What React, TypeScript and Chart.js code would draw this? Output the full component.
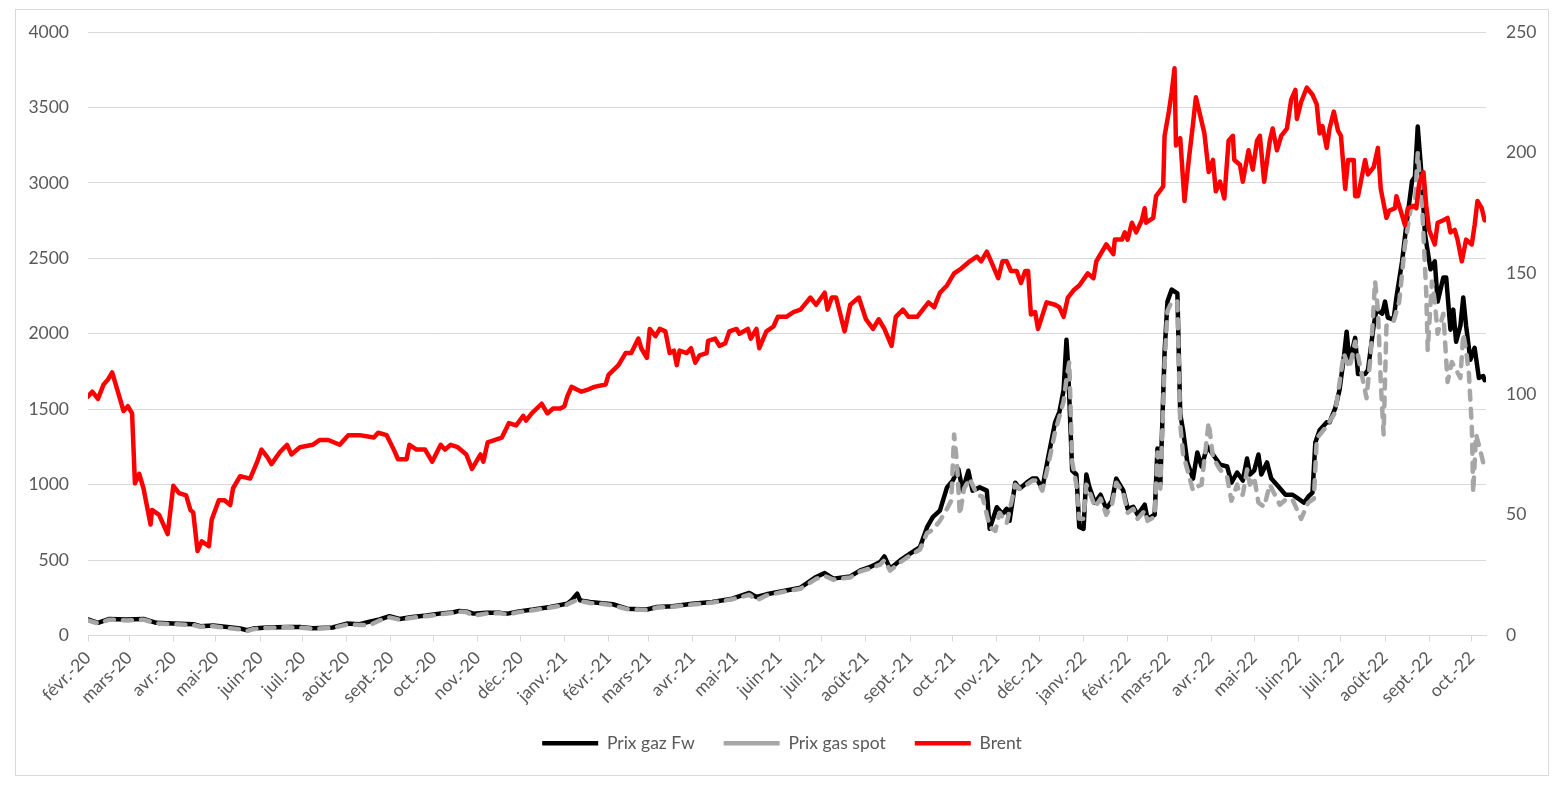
import { useEffect, useRef } from "react";
import { Chart, registerables } from "chart.js";

Chart.register(...registerables);

// Day 0 = 1 Feb 2020; x positions are days since that date
const START_DATE = Date.UTC(2020, 1, 1);
const LAST_DAY = 983;

const monthLabels = [
  "févr.-20", "mars-20", "avr.-20", "mai-20", "juin-20", "juil.-20", "août-20", "sept.-20", "oct.-20", "nov.-20", "déc.-20",
  "janv.-21", "févr.-21", "mars-21", "avr.-21", "mai-21", "juin-21", "juil.-21", "août-21", "sept.-21", "oct.-21", "nov.-21", "déc.-21",
  "janv.-22", "févr.-22", "mars-22", "avr.-22", "mai-22", "juin-22", "juil.-22", "août-22", "sept.-22", "oct.-22",
];

const leftTicks = [0, 500, 1000, 1500, 2000, 2500, 3000, 3500, 4000];
const rightTicks = [0, 50, 100, 150, 200, 250];

const seriesNames = ["Prix gaz Fw", "Prix gas spot", "Brent"];

const fwDays = [0, 7, 15, 27, 39, 48, 60, 74, 79, 88, 98, 107, 112, 116, 126, 140, 149, 158, 172, 182, 191, 198, 205, 212, 219, 228, 238, 247, 257, 261, 266, 271, 280, 290, 295, 303, 313, 325, 337, 340, 344, 346, 353, 360, 369, 379, 393, 400, 411, 425, 439, 453, 465, 470, 477, 489, 501, 512, 518, 524, 536, 543, 550, 557, 560, 564, 571, 578, 585, 590, 594, 599, 604, 608, 612, 615, 619, 622, 627, 632, 634, 639, 643, 646, 648, 652, 655, 660, 664, 667, 671, 675, 680, 683, 686, 688, 689, 692, 695, 697, 700, 702, 704, 708, 712, 716, 720, 723, 728, 731, 735, 738, 743, 745, 750, 752, 754, 757, 759, 762, 766, 768, 770, 773, 777, 780, 783, 787, 791, 796, 801, 804, 808, 812, 815, 817, 820, 823, 825, 829, 832, 837, 842, 847, 851, 855, 858, 861, 863, 866, 871, 873, 877, 880, 883, 885, 887, 891, 893, 898, 900, 904, 906, 910, 912, 914, 918, 920, 924, 927, 931, 933, 935, 938, 940, 944, 947, 949, 953, 955, 958, 960, 962, 965, 967, 969, 972, 975, 978, 981, 982];
const fwValues = [106, 84, 110, 106, 110, 84, 79, 75, 62, 66, 57, 46, 35, 46, 53, 57, 57, 48, 53, 79, 75, 92, 106, 128, 110, 123, 132, 145, 154, 163, 159, 145, 150, 150, 145, 160, 172, 189, 211, 233, 277, 233, 222, 216, 207, 178, 172, 189, 194, 211, 222, 244, 282, 255, 273, 295, 317, 388, 414, 377, 392, 432, 454, 487, 524, 443, 498, 542, 586, 718, 784, 828, 982, 1026, 1103, 960, 1092, 960, 982, 960, 707, 850, 806, 840, 760, 1013, 973, 1013, 1040, 1040, 973, 1173, 1413, 1480, 1627, 1960, 1813, 1093, 1067, 720, 707, 1067, 987, 880, 933, 840, 893, 1040, 960, 840, 853, 800, 867, 773, 800, 1240, 1000, 1880, 2213, 2293, 2267, 1467, 1360, 1147, 1040, 1213, 1120, 1253, 1200, 1133, 1120, 1013, 1080, 1027, 1173, 1067, 1093, 1200, 1067, 1147, 1040, 987, 933, 933, 907, 880, 920, 947, 1280, 1360, 1413, 1413, 1507, 1627, 1840, 2013, 1813, 1973, 1733, 1733, 1760, 2053, 2160, 2133, 2213, 2107, 2093, 2240, 2480, 2720, 3013, 3040, 3373, 3013, 2667, 2427, 2480, 2213, 2373, 2373, 2027, 2160, 1947, 2053, 2240, 2053, 1827, 1907, 1707, 1720, 1693];

const spotDays = [0, 7, 15, 27, 39, 48, 60, 74, 79, 88, 98, 107, 112, 116, 126, 140, 149, 158, 172, 182, 191, 198, 205, 212, 219, 228, 238, 247, 257, 261, 266, 271, 280, 290, 295, 303, 313, 325, 337, 340, 344, 346, 353, 360, 369, 379, 393, 400, 411, 425, 439, 453, 465, 470, 477, 489, 501, 512, 518, 524, 536, 543, 550, 557, 560, 564, 571, 578, 585, 590, 594, 599, 604, 607, 609, 611, 613, 616, 620, 625, 629, 634, 638, 641, 646, 652, 655, 660, 664, 667, 671, 675, 680, 683, 686, 688, 690, 692, 695, 697, 700, 702, 704, 708, 712, 716, 720, 723, 728, 731, 735, 738, 743, 745, 750, 752, 754, 757, 759, 762, 766, 768, 770, 773, 777, 780, 783, 788, 791, 796, 801, 804, 808, 810, 812, 815, 817, 820, 823, 827, 831, 838, 842, 847, 853, 858, 862, 864, 871, 877, 883, 887, 891, 895, 899, 902, 905, 907, 909, 911, 913, 918, 922, 926, 930, 933, 935, 938, 941, 942, 945, 947, 949, 953, 956, 959, 962, 965, 967, 969, 971, 973, 974, 976, 979, 981, 982];
const spotValues = [100, 80, 105, 100, 105, 80, 75, 70, 58, 62, 50, 40, 30, 42, 50, 55, 52, 45, 50, 72, 70, 68, 100, 120, 105, 118, 128, 140, 150, 158, 155, 132, 145, 148, 140, 155, 168, 185, 205, 220, 235, 228, 215, 212, 200, 175, 168, 185, 190, 205, 218, 240, 270, 233, 265, 290, 310, 375, 395, 370, 385, 425, 445, 470, 500, 430, 485, 530, 570, 680, 700, 760, 840, 893, 1333, 1147, 800, 973, 1040, 933, 920, 720, 693, 813, 745, 1000, 973, 1000, 1027, 1027, 960, 1120, 1350, 1450, 1550, 1700, 1813, 1150, 1000, 773, 773, 1000, 960, 850, 907, 800, 870, 1013, 947, 813, 840, 773, 827, 760, 787, 1213, 973, 1800, 2150, 2213, 2213, 1400, 1200, 1100, 960, 987, 1000, 1413, 1180, 1100, 1050, 893, 1000, 933, 933, 1100, 1000, 1050, 880, 853, 1000, 867, 900, 900, 773, 880, 907, 1307, 1387, 1480, 1867, 1773, 1947, 1760, 1573, 1867, 2347, 2160, 1680, 1333, 2053, 2080, 2213, 2587, 2827, 2853, 3200, 2853, 2267, 1893, 2347, 2213, 2000, 2133, 1680, 1813, 1760, 1707, 2000, 1893, 1733, 1387, 947, 1333, 1227, 1147, 1173];

const brentDays = [0, 3, 7, 11, 14, 17, 20, 25, 28, 31, 33, 36, 39, 44, 45, 50, 56, 60, 64, 69, 72, 74, 77, 80, 85, 87, 92, 96, 100, 102, 107, 114, 119, 122, 126, 129, 135, 140, 143, 149, 158, 163, 169, 177, 183, 191, 201, 204, 210, 215, 218, 224, 226, 231, 237, 242, 248, 251, 255, 260, 266, 270, 273, 276, 278, 281, 291, 296, 301, 306, 308, 312, 319, 323, 327, 332, 335, 337, 340, 347, 352, 356, 364, 366, 373, 378, 382, 387, 389, 393, 395, 399, 402, 406, 409, 412, 414, 416, 421, 424, 427, 430, 435, 436, 441, 444, 448, 451, 456, 458, 464, 466, 470, 472, 477, 482, 485, 487, 491, 496, 501, 508, 512, 518, 520, 523, 526, 532, 536, 542, 547, 552, 556, 560, 565, 568, 573, 577, 583, 587, 591, 595, 599, 604, 609, 614, 620, 625, 628, 632, 635, 640, 643, 646, 649, 653, 656, 659, 661, 663, 666, 668, 674, 680, 683, 686, 689, 693, 697, 703, 707, 709, 711, 716, 721, 722, 727, 729, 731, 734, 737, 741, 743, 744, 749, 751, 756, 757, 760, 762, 764, 765, 768, 771, 774, 777, 779, 783, 785, 788, 791, 793, 796, 799, 802, 805, 806, 810, 812, 816, 819, 822, 824, 827, 831, 833, 836, 839, 843, 846, 849, 850, 853, 857, 861, 864, 866, 868, 871, 873, 876, 879, 881, 884, 886, 890, 891, 893, 898, 900, 904, 907, 909, 913, 915, 919, 920, 922, 926, 928, 932, 934, 936, 939, 941, 943, 947, 949, 953, 956, 958, 961, 963, 966, 969, 973, 975, 977, 980, 982];
const brentValues = [99, 101, 98, 104, 106, 109, 103, 93, 95, 92, 63, 67, 61, 46, 52, 50, 42, 62, 59, 58, 52, 51, 35, 39, 37, 48, 56, 56, 54, 61, 66, 65, 72, 77, 74, 71, 76, 79, 75, 78, 79, 81, 81, 79, 83, 83, 82, 84, 83, 77, 73, 73, 79, 77, 77, 72, 79, 77, 79, 78, 75, 69, 72, 75, 72, 80, 82, 88, 87, 91, 89, 92, 96, 92, 94, 94, 95, 99, 103, 101, 102, 103, 104, 108, 112, 117, 117, 123, 119, 115, 127, 124, 127, 126, 117, 118, 112, 118, 117, 119, 113, 116, 117, 122, 123, 120, 121, 126, 127, 125, 127, 123, 127, 119, 126, 128, 132, 132, 132, 134, 135, 140, 137, 142, 135, 140, 140, 126, 137, 140, 131, 127, 131, 127, 120, 132, 135, 132, 132, 135, 138, 136, 142, 145, 150, 152, 155, 157, 155, 159, 155, 148, 155, 155, 151, 151, 146, 151, 151, 133, 134, 127, 138, 137, 136, 132, 140, 143, 145, 150, 148, 155, 157, 162, 158, 164, 164, 167, 164, 171, 167, 172, 177, 171, 173, 182, 186, 207, 217, 225, 235, 203, 206, 180, 197, 212, 223, 213, 208, 192, 197, 184, 188, 181, 205, 207, 197, 195, 188, 201, 193, 205, 207, 188, 205, 210, 201, 207, 210, 222, 226, 214, 221, 227, 224, 220, 208, 211, 202, 210, 217, 209, 207, 185, 197, 197, 182, 182, 197, 191, 194, 202, 185, 173, 176, 177, 182, 178, 170, 177, 178, 177, 187, 192, 178, 168, 162, 171, 172, 173, 167, 168, 164, 155, 164, 162, 170, 180, 177, 172];

const toPoints = (days: number[], values: number[]) => days.map((d, i) => ({ x: d, y: values[i] }));
const monthTicks = monthLabels.map((_, i) => (Date.UTC(2020, 1 + i, 1) - START_DATE) / 86400000);

const TEXT = "#595959";
const GRID = "#d9d9d9";
const FONT = { family: "Lato", size: 17.5 };

export default function App() {
  const ref = useRef<HTMLCanvasElement | null>(null);

  useEffect(() => {
    if (!ref.current) return;
    const chart = new Chart(ref.current, {
      type: "line",
      data: {
        datasets: [
          {
            label: seriesNames[0],
            data: toPoints(fwDays, fwValues),
            borderColor: "#000000",
            backgroundColor: "#000000",
            borderWidth: 4.5,
            pointRadius: 0,
            borderJoinStyle: "round",
            borderCapStyle: "round",
            yAxisID: "y",
            order: 3,
          },
          {
            label: seriesNames[1],
            data: toPoints(spotDays, spotValues),
            borderColor: "#a6a6a6",
            backgroundColor: "#a6a6a6",
            borderWidth: 4.5,
            borderDash: [9, 9],
            pointRadius: 0,
            borderJoinStyle: "round",
            borderCapStyle: "round",
            yAxisID: "y",
            order: 2,
          },
          {
            label: seriesNames[2],
            data: toPoints(brentDays, brentValues),
            borderColor: "#ff0000",
            backgroundColor: "#ff0000",
            borderWidth: 4.5,
            pointRadius: 0,
            borderJoinStyle: "round",
            borderCapStyle: "round",
            yAxisID: "y1",
            order: 1,
          },
        ],
      },
      options: {
        responsive: false,
        animation: false,
        devicePixelRatio: 1,
        layout: { padding: { left: 0, right: 0, top: 22, bottom: 13 } },
        elements: { line: { tension: 0 } },
        plugins: {
          tooltip: { enabled: false },
          legend: {
            position: "bottom",
            labels: {
              usePointStyle: true,
              pointStyle: "line",
              pointStyleWidth: 56,
              padding: 29,
              color: TEXT,
              font: FONT,
              sort: (a: any, b: any) => a.datasetIndex - b.datasetIndex,
            },
          },
        },
        scales: {
          x: {
            type: "linear",
            min: 0,
            max: LAST_DAY,
            afterBuildTicks: (scale: any) => {
              scale.ticks = monthTicks.map((v) => ({ value: v }));
            },
            afterFit: (scale: any) => {
              scale.height = 70;
            },
            ticks: {
              autoSkip: false,
              minRotation: 45,
              maxRotation: 45,
              padding: 6,
              color: TEXT,
              font: FONT,
              callback: (_v: any, i: number) => monthLabels[i],
            },
            grid: { drawOnChartArea: false, drawTicks: true, tickLength: 6, color: GRID },
            border: { color: GRID },
          },
          y: {
            position: "left",
            min: 0,
            max: 4000,
            afterBuildTicks: (scale: any) => {
              scale.ticks = leftTicks.map((v) => ({ value: v }));
            },
            afterFit: (scale: any) => {
              scale.width = 72;
              scale.paddingTop = 10;
              scale.paddingBottom = 10;
            },
            ticks: { padding: 19, color: TEXT, font: FONT, callback: (v: any) => String(v) },
            grid: { color: GRID, drawTicks: false },
            border: { display: false },
          },
          y1: {
            position: "right",
            min: 0,
            max: 250,
            afterBuildTicks: (scale: any) => {
              scale.ticks = rightTicks.map((v) => ({ value: v }));
            },
            afterFit: (scale: any) => {
              scale.width = 62;
              scale.paddingTop = 10;
              scale.paddingBottom = 10;
            },
            ticks: { padding: 20, color: TEXT, font: FONT, callback: (v: any) => String(v) },
            grid: { display: false, drawTicks: false },
            border: { display: false },
          },
        },
      },
    });
    return () => chart.destroy();
  }, []);

  return (
    <div
      style={{
        position: "absolute",
        left: 15,
        top: 9,
        width: 1534,
        height: 767,
        border: "1px solid #d9d9d9",
        boxSizing: "border-box",
        background: "#ffffff",
      }}
    >
      <canvas ref={ref} width={1532} height={765} style={{ display: "block", width: 1532, height: 765 }} />
    </div>
  );
}
